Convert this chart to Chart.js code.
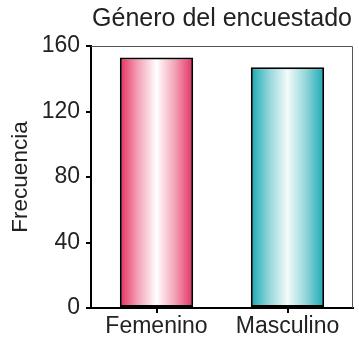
<!DOCTYPE html>
<html>
<head>
<meta charset="utf-8">
<script src="https://cdn.jsdelivr.net/npm/chart.js@4/dist/chart.umd.min.js"></script>
<style>
html,body{margin:0;padding:0;background:#fff;}
#wrap{width:359px;height:337px;position:relative;}
</style>
</head>
<body>
<div id="wrap"><canvas id="c" width="359" height="337"></canvas></div>
<script>
const categories = ["Femenino", "Masculino"];
const frequencies = [153, 147];
const yTicks = [0, 40, 80, 120, 160];
const chartTitle = "Género del encuestado";
const yTitle = "Frecuencia";

const edgeColors = ["#e4305f", "#17a9b5"];
const midColors = ["#f3a3b7", "#93d6da"];
const centerColors = ["#ffffff", "#f4fbfb"];
const BAR_PCT = 0.56;
const FONT = '"Liberation Sans", Arial, sans-serif';

function barFill(ctx) {
  const chart = ctx.chart;
  const xs = chart.scales.x;
  const i = ctx.dataIndex;
  if (!chart.chartArea || !xs || xs.width === undefined) return edgeColors[i % 2];
  const c = xs.getPixelForValue(i);
  const half = (xs.width / categories.length) * BAR_PCT / 2;
  const g = chart.ctx.createLinearGradient(c - half, 0, c + half, 0);
  g.addColorStop(0, edgeColors[i]);
  g.addColorStop(0.25, midColors[i]);
  g.addColorStop(0.5, centerColors[i]);
  g.addColorStop(0.75, midColors[i]);
  g.addColorStop(1, edgeColors[i]);
  return g;
}

const framePlugin = {
  id: 'frame',
  beforeDatasetsDraw(chart) {
    const {ctx, chartArea: a} = chart;
    ctx.save();
    ctx.strokeStyle = '#555';
    ctx.lineWidth = 1;
    ctx.beginPath();
    ctx.moveTo(a.left, a.top + 0.5);
    ctx.lineTo(a.right - 0.5, a.top + 0.5);
    ctx.lineTo(a.right - 0.5, a.bottom);
    ctx.stroke();
    ctx.restore();
  },
  afterDraw(chart) {
    const {ctx, chartArea: a} = chart;
    ctx.save();
    ctx.translate(21, (a.top + a.bottom) / 2);
    ctx.rotate(-Math.PI / 2);
    ctx.font = '22.5px ' + FONT;
    ctx.fillStyle = '#222';
    ctx.textAlign = 'center';
    ctx.textBaseline = 'middle';
    ctx.fillText(yTitle, 0, 0);
    ctx.restore();
  }
};

new Chart(document.getElementById('c'), {
  type: 'bar',
  data: {
    labels: categories,
    datasets: [{
      data: frequencies,
      backgroundColor: barFill,
      borderColor: '#000',
      borderWidth: 2,
      borderSkipped: false,
      barPercentage: BAR_PCT,
      categoryPercentage: 1
    }]
  },
  options: {
    responsive: false,
    animation: false,
    layout: {padding: {left: 0, right: 6, top: 0, bottom: 0}},
    plugins: {
      legend: {display: false},
      tooltip: {enabled: false},
      title: {
        display: true,
        text: chartTitle,
        fullSize: false,
        color: '#222',
        font: {family: FONT, size: 25, weight: 'normal', lineHeight: 1.2},
        padding: {top: 4, bottom: 12}
      }
    },
    scales: {
      x: {
        offset: true,
        grid: {display: true, drawOnChartArea: false, offset: false, tickLength: 5, color: '#000', lineWidth: 2},
        border: {display: true, color: '#000', width: 2},
        ticks: {color: '#222', padding: 0, maxRotation: 0, autoSkip: false, font: {family: FONT, size: 23}},
        afterFit(s) { s.height = 29; }
      },
      y: {
        min: 0,
        max: 160,
        afterBuildTicks(s) { s.ticks = yTicks.map(v => ({value: v})); },
        grid: {display: true, drawOnChartArea: false, tickLength: 5, color: '#000', lineWidth: 2},
        border: {display: true, color: '#000', width: 2},
        ticks: {color: '#222', padding: 6, font: {family: FONT, size: 23}},
        afterFit(s) { s.width = 91; }
      }
    }
  },
  plugins: [framePlugin]
});
</script>
</body>
</html>
